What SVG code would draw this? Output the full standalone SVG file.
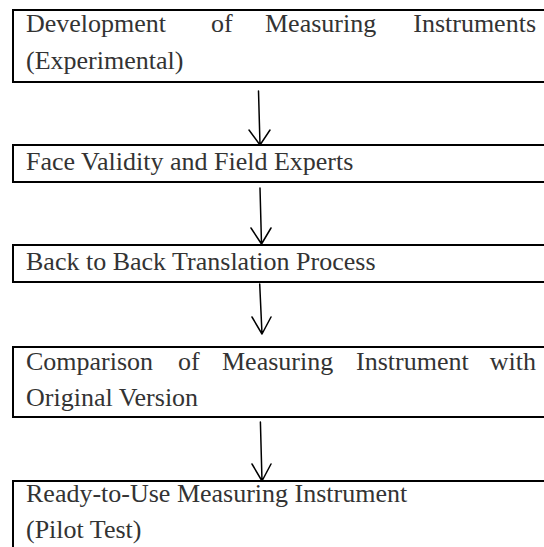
<svg xmlns="http://www.w3.org/2000/svg" width="544" height="547" viewBox="0 0 544 547">
<style>
.box{fill:#fff;stroke:#000;stroke-width:2}
.t{font-family:"Liberation Serif","Times New Roman",serif;font-size:26px;fill:#333}
.c{fill:none;stroke:#000;stroke-width:1.5;stroke-linecap:round;stroke-linejoin:round}
</style>
<rect width="544" height="547" fill="#fff"/>
<g id="n1">
<rect class="box" x="13" y="10" width="545" height="72"/>
<text class="t" y="32"><tspan x="26">Development</tspan><tspan x="211">of</tspan><tspan x="265">Measuring</tspan><tspan x="536" text-anchor="end">Instruments</tspan></text>
<text class="t" x="26" y="69">(Experimental)</text>
</g>
<g id="n2">
<rect class="box" x="13" y="145" width="545" height="37"/>
<text class="t" x="26" y="170">Face Validity and Field Experts</text>
</g>
<g id="n3">
<rect class="box" x="13" y="245" width="545" height="37"/>
<text class="t" x="26" y="270">Back to Back Translation Process</text>
</g>
<g id="n4">
<rect class="box" x="13" y="347" width="545" height="70"/>
<text class="t" y="370"><tspan x="26">Comparison</tspan><tspan x="178">of</tspan><tspan x="222">Measuring</tspan><tspan x="356">Instrument</tspan><tspan x="536" text-anchor="end">with</tspan></text>
<text class="t" x="26" y="406">Original Version</text>
</g>
<g id="n5">
<rect class="box" x="13" y="481" width="545" height="80"/>
<text class="t" x="26" y="502">Ready-to-Use Measuring Instrument</text>
<text class="t" x="26" y="538">(Pilot Test)</text>
</g>
<g id="connectors">
<path class="c" d="M258.5 91 L260 145 M249 130 L260 145 L270 130"/>
<path class="c" d="M260 188 L261.5 244 M251 228 L261.5 244 L271 228"/>
<path class="c" d="M259.7 284 L262 334 M252 317 L262 334 L271 317"/>
<path class="c" d="M260.4 422 L262 481 M252 464 L262 481 L271 464"/>
</g>
</svg>
